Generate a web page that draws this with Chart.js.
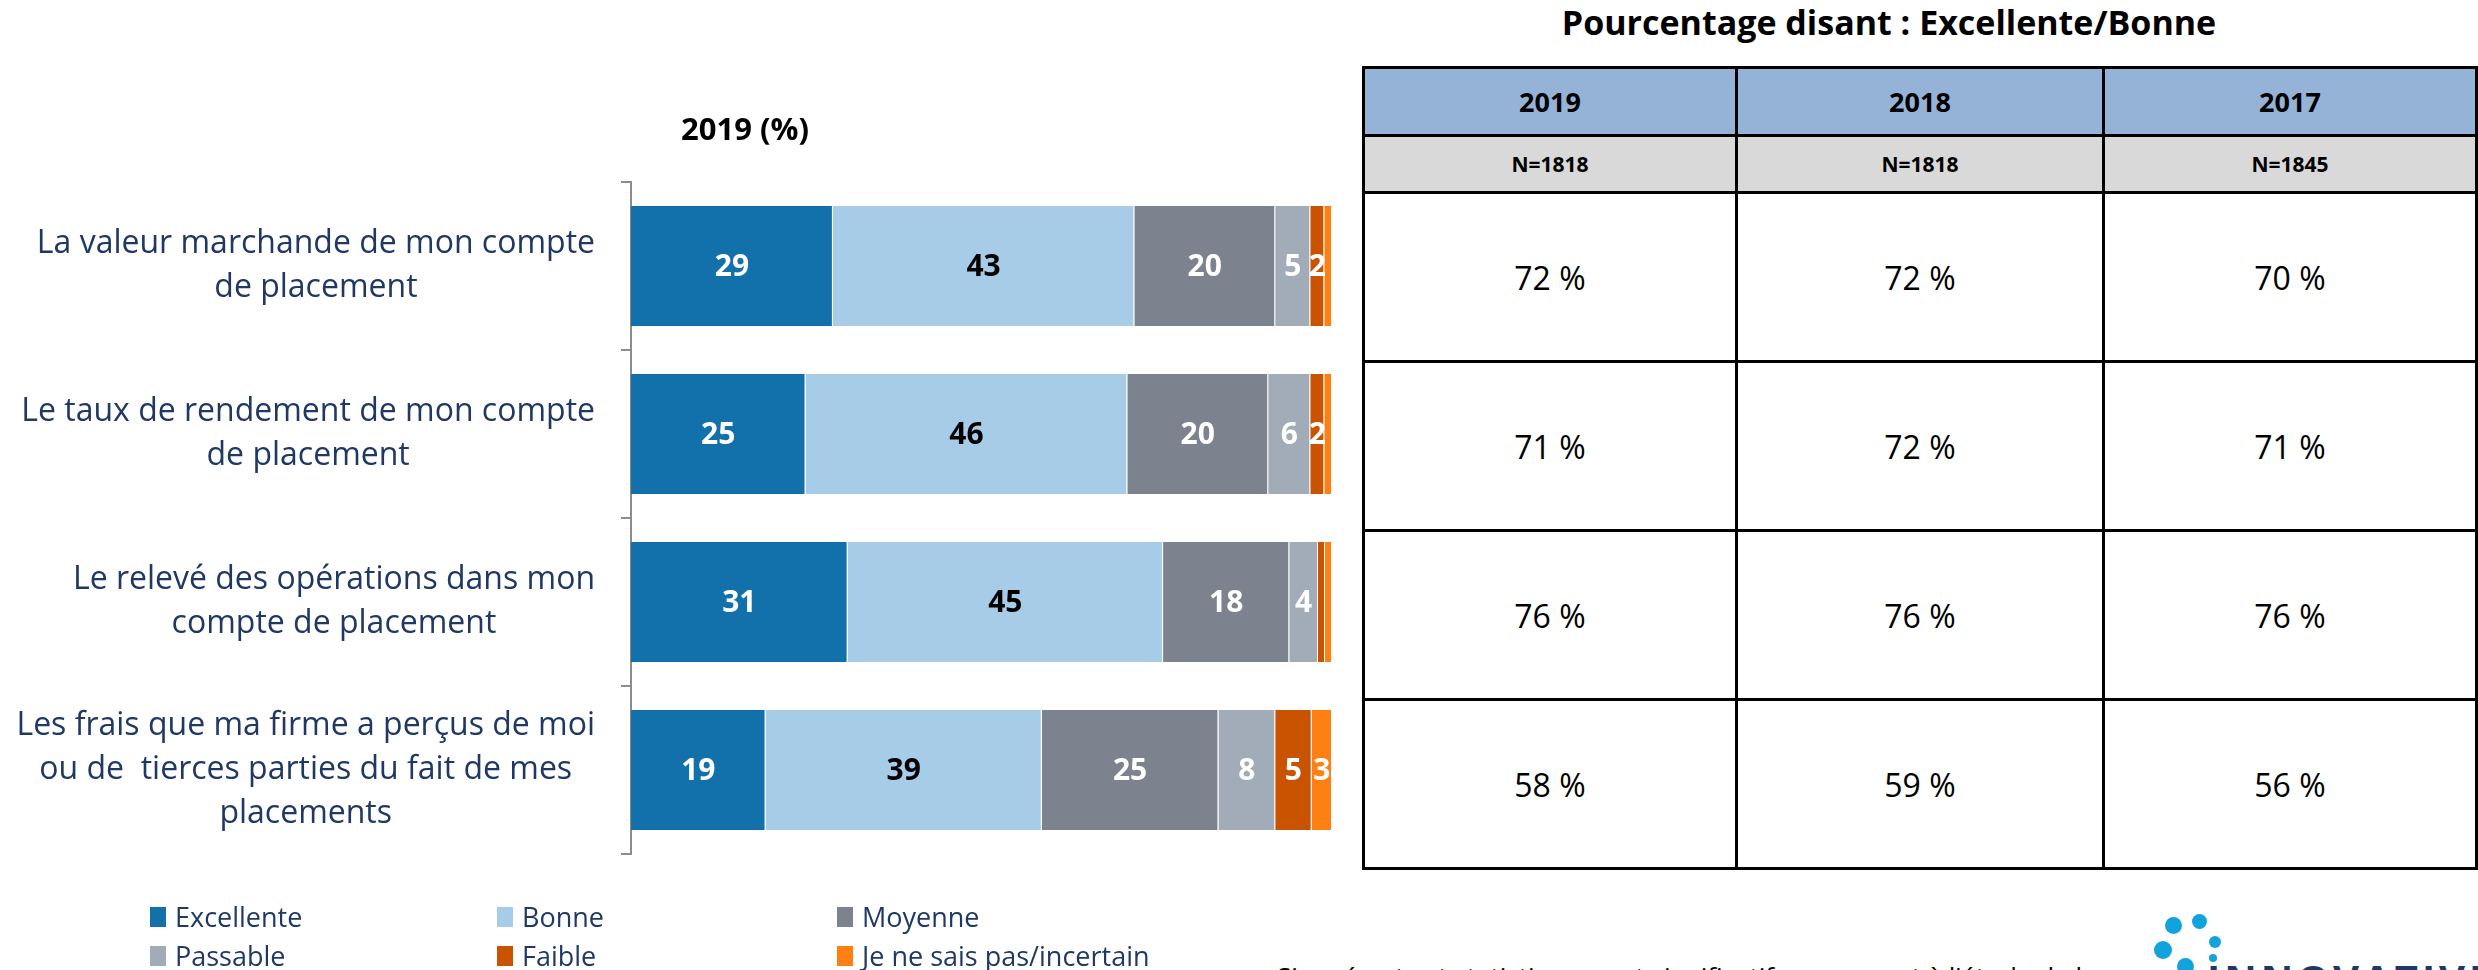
<!DOCTYPE html>
<html>
<head>
<meta charset="utf-8">
<script src="https://cdn.jsdelivr.net/npm/chart.js@4/dist/chart.umd.min.js"></script>
<style>
html, body { margin: 0; padding: 0; width: 2478px; height: 970px; overflow: hidden; background: #fff; font-family: "Open Sans", sans-serif; }
#chartBox { position: absolute; left: 0; top: 0; width: 1360px; height: 900px; }
#chartTitle { position: absolute; left: 645px; top: 107px; width: 200px; text-align: center; font-weight: bold; font-size: 31px; color: #000; }
#legend { position: absolute; left: 150px; top: 897px; display: grid; grid-template-columns: 347px 340px 400px; grid-auto-rows: 39px; font-size: 27px; color: #1F3864; }
#legend .item { display: flex; align-items: center; }
#legend .box { width: 16px; height: 20px; margin-right: 9px; }
#tableTitle { position: absolute; left: 1389px; top: 0; width: 1000px; text-align: center; font-weight: bold; font-size: 34px; line-height: 44px; }
#resultTable { position: absolute; left: 1362px; top: 66px; border-collapse: collapse; table-layout: fixed; }
#resultTable td { border: 3px solid #000; text-align: center; padding: 0; }
#resultTable tr.years td { background: #95B3D7; font-weight: bold; font-size: 27px; height: 65px; }
#resultTable tr.sizes td { background: #D9D9D9; font-weight: bold; font-size: 21px; height: 54px; }
#resultTable tr.values td { font-size: 32px; height: 166px; }
#note { position: absolute; left: 1277px; top: 958px; font-size: 26px; white-space: nowrap; }
.dot { position: absolute; border-radius: 50%; background: #12A3DD; }
#logoText { position: absolute; left: 2207px; top: 951px; font-size: 40px; font-weight: bold; color: #1F3864; letter-spacing: 4px; }
</style>
</head>
<body>
<div id="chartBox"><canvas id="satisfaction-chart"></canvas></div>
<div id="chartTitle">2019 (%)</div>
<div id="legend"></div>
<div id="tableTitle">Pourcentage disant : Excellente/Bonne</div>
<table id="resultTable"></table>
<div id="note">Si un écart est statistiquement significatif par rapport à l'étude de la</div>
<div class="dot" style="left:2165px;top:917px;width:17px;height:17px"></div>
<div class="dot" style="left:2192px;top:914px;width:15px;height:15px"></div>
<div class="dot" style="left:2209px;top:936px;width:12px;height:12px"></div>
<div class="dot" style="left:2154px;top:941px;width:18px;height:18px"></div>
<div class="dot" style="left:2209px;top:954px;width:8px;height:8px"></div>
<div class="dot" style="left:2177px;top:958px;width:17px;height:17px"></div>
<div id="logoText">INNOVATIVE</div>
<script>
const categories = [
    ["La valeur marchande de mon compte", "de placement"],
    ["Le taux de rendement de mon compte", "de placement"],
    ["Le relevé des opérations dans mon", "compte de placement"],
    ["Les frais que ma firme a perçus de moi", "ou de  tierces parties du fait de mes", "placements"]
];
const seriesNames = ["Excellente", "Bonne", "Moyenne", "Passable", "Faible", "Je ne sais pas/incertain"];
const seriesColors = ["#1270AA", "#A6CCE8", "#7D838E", "#A2ACB8", "#C95300", "#FF8012"];
// unrounded shares; labels show the rounded value
const excellente = [28.8, 24.9, 30.9, 19.2];
const bonne = [43.0, 45.9, 45.0, 39.4];
const moyenne = [20.1, 20.1, 18.0, 25.2];
const passable = [5.0, 6.0, 4.1, 8.1];
const faible = [2.0, 2.0, 1.0, 5.2];
const incertain = [1.1, 1.1, 1.0, 2.9];

const years = ["2019", "2018", "2017"];
const sampleSizes = ["N=1818", "N=1818", "N=1845"];
const goodShare2019 = [72, 71, 76, 58];
const goodShare2018 = [72, 72, 76, 59];
const goodShare2017 = [70, 71, 76, 56];

const seriesValues = [excellente, bonne, moyenne, passable, faible, incertain];

// legend
const legendBox = document.getElementById('legend');
seriesNames.forEach((name, i) => {
    const item = document.createElement('div');
    item.className = 'item';
    item.innerHTML = '<span class="box" style="background:' + seriesColors[i] + '"></span>' + name;
    legendBox.appendChild(item);
});

// table
const table = document.getElementById('resultTable');
const colWidths = [373, 367, 373];
let html = '<colgroup>' + colWidths.map(w => '<col style="width:' + w + 'px">').join('') + '</colgroup>';
html += '<tr class="years">' + years.map(y => '<td>' + y + '</td>').join('') + '</tr>';
html += '<tr class="sizes">' + sampleSizes.map(n => '<td>' + n + '</td>').join('') + '</tr>';
for (let r = 0; r < goodShare2019.length; r++) {
    html += '<tr class="values">' + [goodShare2019[r], goodShare2018[r], goodShare2017[r]].map(v => '<td>' + v + ' %</td>').join('') + '</tr>';
}
table.innerHTML = html;

const categoryLabels = {
    id: 'categoryLabels',
    afterDraw(chart) {
        const ctx = chart.ctx;
        const yScale = chart.scales.y;
        const right = yScale.right - 36;
        ctx.save();
        ctx.font = '32px "Open Sans"';
        ctx.fillStyle = '#1F3864';
        ctx.textAlign = 'center';
        ctx.textBaseline = 'middle';
        categories.forEach((lines, i) => {
            const yc = yScale.getPixelForValue(i);
            const w = Math.max(...lines.map(l => ctx.measureText(l).width));
            const cx = right - w / 2;
            lines.forEach((l, j) => ctx.fillText(l, cx, yc + (j - (lines.length - 1) / 2) * 44));
        });
        ctx.restore();
    }
};

const barValues = {
    id: 'barValues',
    afterDatasetsDraw(chart) {
        const ctx = chart.ctx;
        ctx.save();
        ctx.font = 'bold 30px "Open Sans"';
        ctx.textAlign = 'center';
        ctx.textBaseline = 'middle';
        chart.data.datasets.forEach((ds, d) => {
            chart.getDatasetMeta(d).data.forEach((bar, i) => {
                const v = Math.round(ds.data[i]);
                if (v < 2) return;
                ctx.fillStyle = d === 1 ? '#000' : '#fff';
                ctx.fillText(v, (bar.x + bar.base) / 2, bar.y + 1);
            });
        });
        ctx.restore();
    }
};

new Chart(document.getElementById('satisfaction-chart'), {
    type: 'bar',
    data: {
        labels: categories.map(l => l.join(' ')),
        datasets: seriesNames.map((name, i) => ({
            label: name,
            data: seriesValues[i],
            backgroundColor: seriesColors[i],
            borderColor: '#ffffff',
            borderWidth: { left: 0, right: 1, top: 0, bottom: 0 },
            borderSkipped: false,
            barPercentage: 0.9,
            categoryPercentage: 0.794
        }))
    },
    options: {
        indexAxis: 'y',
        responsive: true,
        maintainAspectRatio: false,
        animation: false,
        layout: { padding: { left: 0, right: 28, top: 182, bottom: 46 } },
        scales: {
            x: { stacked: true, display: false, min: 0, max: 100 },
            y: {
                stacked: true,
                ticks: { display: false },
                grid: { drawOnChartArea: false, drawTicks: true, tickLength: 10, color: '#8c8c8c', lineWidth: 2, offset: true },
                border: { display: true, color: '#8c8c8c', width: 2 },
                afterFit(scale) { scale.width = 631; }
            }
        },
        plugins: {
            legend: { display: false },
            title: { display: false },
            tooltip: { enabled: false }
        }
    },
    plugins: [categoryLabels, barValues]
});
</script>
</body>
</html>
